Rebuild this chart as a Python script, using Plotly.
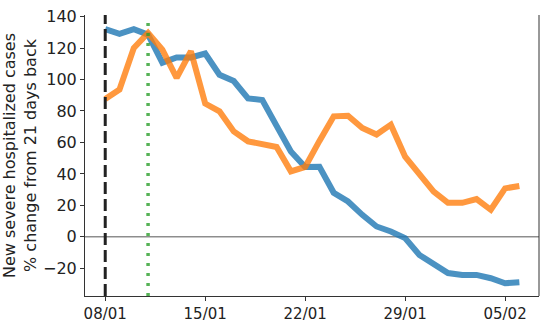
import plotly.graph_objects as go
import pandas as pd

dates = pd.date_range("2022-01-08", "2022-02-06", freq="D")
blue_vals = [132, 129, 132, 128.5, 110.7, 114, 114, 116.5, 103, 99, 88, 87, 70.5, 54.3,
             44.4, 44.5, 28, 22.5, 14, 6.6, 3.4, -0.8, -11.5, -17.2, -23, -24.2, -24.2,
             -26.3, -29.5, -28.8]
orange_vals = [87.6, 93.6, 120, 129.6, 119, 101, 118, 84.7, 79.8, 67, 60.7, 58.5, 57.1, 41.6,
               44.4, 61, 76.6, 77, 69.2, 65, 71.3, 51, 39.5, 28.8, 21.6, 21.6, 24, 17.2,
               30.8, 32.3]
tick_vals = ["2022-01-08", "2022-01-15", "2022-01-22", "2022-01-29", "2022-02-05"]
tick_text = ["08/01", "15/01", "22/01", "29/01", "05/02"]
y_ticks = [-20, 0, 20, 40, 60, 80, 100, 120, 140]
dashed_date = "2022-01-08"
dotted_date = "2022-01-11"

fig = go.Figure()
fig.add_trace(go.Scatter(x=dates, y=blue_vals, mode="lines",
                         line=dict(color="#1f77b4", width=6), opacity=0.8))
fig.add_trace(go.Scatter(x=dates, y=orange_vals, mode="lines",
                         line=dict(color="#ff7f0e", width=6), opacity=0.8))

fig.add_shape(type="line", xref="paper", x0=0, x1=1, yref="y", y0=0, y1=0,
              line=dict(color="#555555", width=1), layer="below")
fig.add_shape(type="line", xref="x", x0=dashed_date, x1=dashed_date, yref="paper", y0=0, y1=1,
              line=dict(color="#222222", width=3, dash="12px,5px"))
fig.add_shape(type="line", xref="x", x0=dotted_date, x1=dotted_date, yref="paper", y0=0, y1=0.975,
              line=dict(color="#2ca02c", width=3.5, dash="3px,7px"), opacity=0.8)
fig.add_shape(type="line", xref="paper", x0=1, x1=1, yref="paper", y0=0, y1=1,
              line=dict(color="#333333", width=1))

fig.update_layout(
    width=549, height=332,
    margin=dict(l=85, r=10, t=15, b=36),
    plot_bgcolor="white", paper_bgcolor="white",
    showlegend=False,
    font=dict(family="DejaVu Sans", size=15, color="#222222"),
)
fig.update_xaxes(
    range=["2022-01-06 14:00", "2022-02-07 09:00"],
    tickvals=tick_vals, ticktext=tick_text,
    showgrid=False, zeroline=False, automargin=False,
    showline=True, linecolor="#333333", linewidth=1,
    ticks="outside", ticklen=4, tickcolor="#333333",
    tickfont=dict(size=15),
)
fig.update_yaxes(
    range=[-37.6, 141],
    tickvals=y_ticks,
    showgrid=False, zeroline=False, automargin=False,
    showline=True, linecolor="#333333", linewidth=1,
    ticks="outside", ticklen=4, tickcolor="#333333",
    tickfont=dict(size=16),
    title=dict(text="New severe hospitalized cases<br>% change from 21 days back",
               font=dict(size=16), standoff=6),
)
fig.write_html("out.html")
